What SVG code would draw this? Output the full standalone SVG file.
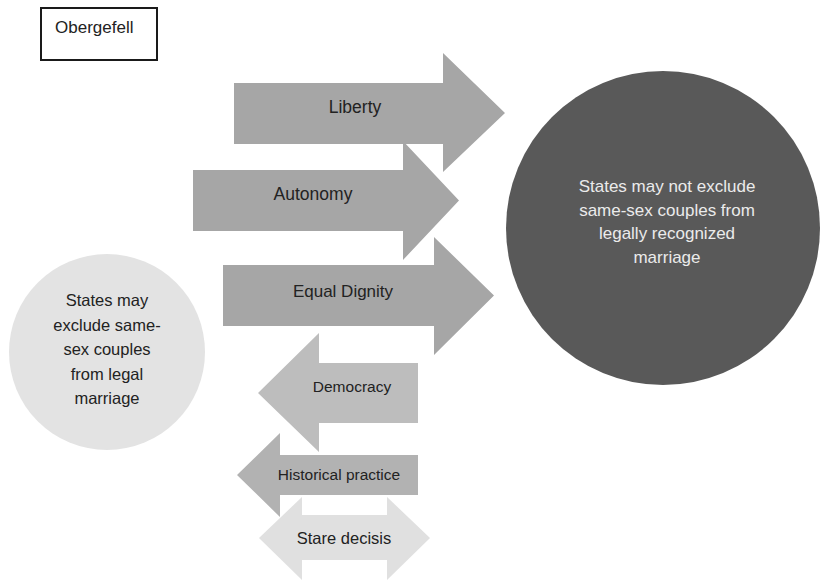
<svg xmlns="http://www.w3.org/2000/svg" width="820" height="581" viewBox="0 0 820 581">
<style>
text{font-family:"Liberation Sans",Arial,sans-serif;fill:#222222;text-anchor:middle}
.ar{fill:#a6a6a6}
.dem{fill:#bdbdbd}
.his{fill:#b2b2b2}
.sd{fill:#e0e0e0}
.lt{fill:#ebebeb}
</style>
<rect x="0" y="0" width="820" height="581" fill="#ffffff"/>
<g id="title">
<rect x="41" y="8" width="116" height="52" fill="#fff" stroke="#1a1a1a" stroke-width="2"/>
<text x="55" y="33" font-size="17" style="text-anchor:start">Obergefell</text>
</g>
<g id="connectors">
<g id="stare-decisis">
<polygon class="sd" points="259,538 302,497 302,515 387,515 387,497 430,538 387,580 387,560 302,560 302,580"/>
<text x="344" y="544" font-size="16.5">Stare decisis</text>
</g>
<g id="liberty">
<polygon class="ar" points="234,83 443,83 443,53 505,113 443,172 443,144 234,144"/>
<text x="355" y="113" font-size="17.5">Liberty</text>
</g>
<g id="autonomy">
<polygon class="ar" points="193,170 403,170 403,141 459,200.5 403,260 403,231 193,231"/>
<text x="313" y="200" font-size="17.5">Autonomy</text>
</g>
<g id="equal-dignity">
<polygon class="ar" points="223,265 434,265 434,237 494,295.5 434,355 434,326 223,326"/>
<text x="343" y="297" font-size="17">Equal Dignity</text>
</g>
<g id="democracy">
<polygon class="dem" points="418,363 319,363 319,333 258,393 319,452 319,423 418,423"/>
<text x="352" y="392" font-size="15.5">Democracy</text>
</g>
<g id="historical-practice">
<polygon class="his" points="418,455 280,455 280,433 237,475 280,517 280,495 418,495"/>
<text x="339" y="480" font-size="15.5">Historical practice</text>
</g>
</g>
<g id="left-circle">
<circle cx="107" cy="352" r="98" fill="#e3e3e3"/>
<text font-size="16.5" x="107" y="306">States may</text>
<text font-size="16.5" x="107" y="331">exclude same-</text>
<text font-size="16.5" x="107" y="355">sex couples</text>
<text font-size="16.5" x="107" y="380">from legal</text>
<text font-size="16.5" x="107" y="404">marriage</text>
</g>
<g id="right-circle">
<circle cx="663" cy="228" r="157" fill="#595959"/>
<text class="lt" font-size="17" x="667" y="192">States may not exclude</text>
<text class="lt" font-size="17" x="667" y="215.5">same-sex couples from</text>
<text class="lt" font-size="17" x="667" y="239">legally recognized</text>
<text class="lt" font-size="17" x="667" y="262.5">marriage</text>
</g>
</svg>
